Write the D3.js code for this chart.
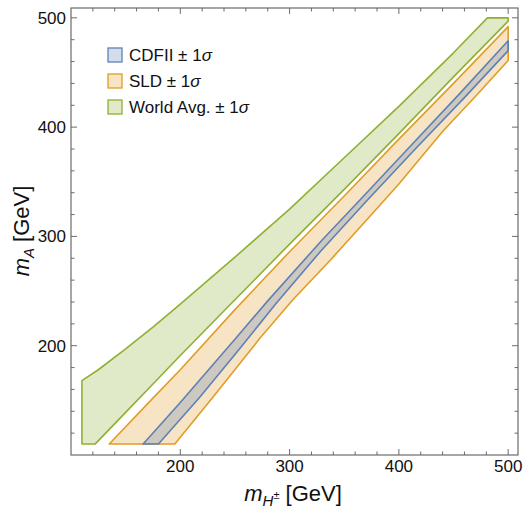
<!DOCTYPE html>
<html>
<head>
<meta charset="utf-8">
<script src="https://cdn.jsdelivr.net/npm/d3@7"></script>
<style>
  body { margin: 0; background: #fff; }
  text { font-family: "Liberation Sans", Arial, sans-serif; fill: #111; }
</style>
</head>
<body>
<div class="viz"></div>
<script>
const w = 527;
const h = 511;

// boundary points [m_H+-, m_A] in GeV
const worldLower = [[110, 110], [122, 110], [150, 139], [175, 165], [200, 191], [250, 242], [300, 293], [350, 343], [400, 394], [450, 446], [500, 497], [500, 500]];
const worldUpper = [[110, 168], [125, 178], [150, 197], [175, 217], [200, 238], [250, 281], [300, 325], [350, 372], [400, 419], [450, 468], [481, 500]];

const sldLower = [[135, 110], [195, 110], [230, 153], [273, 207], [303, 242], [337, 278], [375, 320], [400, 348], [440, 396], [470, 428], [500, 461], [500, 492]];
const sldUpper = [[135, 110], [175, 152], [200, 178], [250, 233], [300, 286], [350, 337], [400, 389], [450, 440], [500, 492]];

const cdfLower = [[166, 110], [180, 110], [218, 153], [250, 192], [288, 239], [328, 286], [370, 332], [415, 380], [460, 427], [500, 470], [500, 479]];
const cdfUpper = [[166, 110], [200, 148], [250, 206], [280, 241], [330, 297], [365, 334], [410, 382], [455, 430], [500, 479]];

const labels = ["CDFII", "SLD", "World Avg."];
const colors = ["#5e81b5", "#e19c24", "#8fb032"];
const majorTicks = [200, 300, 400, 500];
const minorTicks = d3.range(120, 510, 20).filter(d => d % 100 !== 0);

const svg = d3.select(".viz")
    .append("svg")
    .attr("width", w)
    .attr("height", h);

const x = d3.scaleLinear().domain([100, 509]).range([71, 518]);
const y = d3.scaleLinear().domain([100, 509]).range([455, 8]);

const line = d3.line()
    .x(d => x(d[0]))
    .y(d => y(d[1]));

const regions = [
    { name: "World Avg.", pts: worldLower.concat(worldUpper.slice().reverse()), color: colors[2] },
    { name: "SLD", pts: sldLower.concat(sldUpper.slice().reverse()), color: colors[1] },
    { name: "CDFII", pts: cdfLower.concat(cdfUpper.slice().reverse()), color: colors[0] }
];

svg.selectAll("path.region")
    .data(regions)
    .enter()
    .append("path")
    .attr("class", "region")
    .attr("d", d => line(d.pts) + "Z")
    .style("fill", d => d.color)
    .style("fill-opacity", 0.27)
    .style("stroke", d => d.color)
    .style("stroke-width", 1.6)
    .style("stroke-linejoin", "round");

// frame with inward ticks on all four sides
const frame = "#6b6b6b";
svg.append("rect")
    .attr("x", x.range()[0])
    .attr("y", y.range()[1])
    .attr("width", x.range()[1] - x.range()[0])
    .attr("height", y.range()[0] - y.range()[1])
    .style("fill", "none")
    .style("stroke", frame)
    .style("stroke-width", 1.2);

const ticks = majorTicks.map(v => ({ v: v, len: 6 }))
    .concat(minorTicks.map(v => ({ v: v, len: 3.5 })));

const tg = svg.append("g").style("stroke", frame).style("stroke-width", 1);
ticks.forEach(function (t) {
    const px = x(t.v), py = y(t.v);
    tg.append("line").attr("x1", px).attr("x2", px).attr("y1", y.range()[0]).attr("y2", y.range()[0] - t.len);
    tg.append("line").attr("x1", px).attr("x2", px).attr("y1", y.range()[1]).attr("y2", y.range()[1] + t.len);
    tg.append("line").attr("y1", py).attr("y2", py).attr("x1", x.range()[0]).attr("x2", x.range()[0] + t.len);
    tg.append("line").attr("y1", py).attr("y2", py).attr("x1", x.range()[1]).attr("x2", x.range()[1] - t.len);
});

svg.selectAll("text.xtick")
    .data(majorTicks)
    .enter()
    .append("text")
    .attr("class", "xtick")
    .attr("x", d => x(d))
    .attr("y", 472)
    .attr("text-anchor", "middle")
    .style("font-size", "17px")
    .text(d => d);

svg.selectAll("text.ytick")
    .data(majorTicks)
    .enter()
    .append("text")
    .attr("class", "ytick")
    .attr("x", 66)
    .attr("y", d => y(d) + 6)
    .attr("text-anchor", "end")
    .style("font-size", "17px")
    .text(d => d);

// axis titles
const xt = svg.append("text")
    .attr("x", 293)
    .attr("y", 501)
    .attr("text-anchor", "middle")
    .style("font-size", "22px");
xt.append("tspan").style("font-style", "italic").text("m");
xt.append("tspan").style("font-style", "italic").style("font-size", "15px").attr("dy", 5).text("H");
xt.append("tspan").style("font-size", "11px").attr("dy", -7).text("±");
xt.append("tspan").attr("dy", 2).text(" [GeV]");

const yt = svg.append("text")
    .attr("transform", "translate(29,231) rotate(-90)")
    .attr("text-anchor", "middle")
    .style("font-size", "22px");
yt.append("tspan").style("font-style", "italic").text("m");
yt.append("tspan").style("font-style", "italic").style("font-size", "15px").attr("dy", 5).text("A");
yt.append("tspan").attr("dy", -5).text(" [GeV]");

// legend
const legend = svg.append("g").attr("transform", "translate(108,48)");
labels.forEach(function (lab, i) {
    const g = legend.append("g").attr("transform", "translate(0," + (i * 26) + ")");
    g.append("rect")
        .attr("width", 14)
        .attr("height", 14)
        .style("fill", colors[i])
        .style("fill-opacity", 0.27)
        .style("stroke", colors[i])
        .style("stroke-width", 1.3);
    const t = g.append("text")
        .attr("x", 21)
        .attr("y", 13)
        .style("font-size", "17px");
    t.append("tspan").text(lab + " ± 1");
    t.append("tspan").style("font-style", "italic").text("σ");
});
</script>
</body>
</html>
